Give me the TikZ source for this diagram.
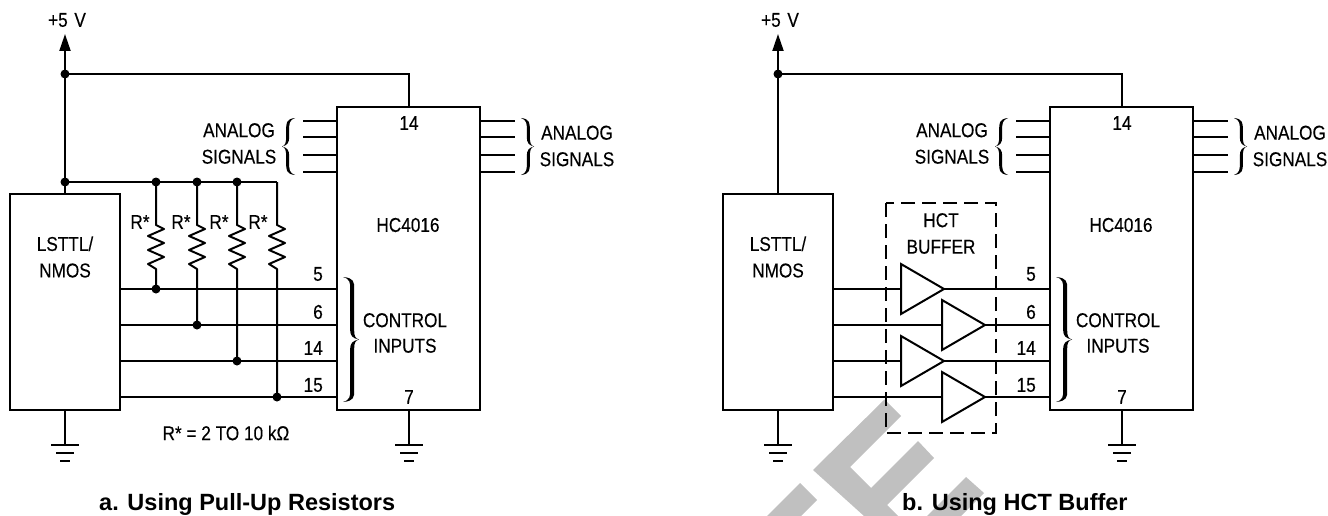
\documentclass[tikz,border=0pt]{standalone}
\usepackage{fontspec}
\setmainfont{Liberation Sans}[FakeStretch=0.86,FakeBold=0.25]
\newfontfamily\titlefont{Liberation Sans}[BoldFont={Liberation Sans Bold}]
\usetikzlibrary{arrows.meta}
\definecolor{wmgrey}{RGB}{192,192,192}
\tikzset{
  wire/.style={line width=2pt,line cap=butt,line join=miter},
  lbl/.style={inner sep=0pt,font=\fontsize{20}{22}\selectfont,align=center},
  pin/.style={inner sep=0pt,anchor=east,font=\fontsize{20}{22}\selectfont},
  dot/.style={circle,fill=black,inner sep=0pt,minimum size=9pt},
  chip/.style={draw,line width=2pt,fill=white,inner sep=0pt},
  buf/.style={wire,fill=white},
  ttl/.style={inner sep=0pt,anchor=base west,font=\titlefont\bfseries\fontsize{23.5}{26}\selectfont},
  brace/.style={fill=black,draw=none}
}
% brace: tip at x0+w; arms end at x0; w and t carry the sign of the direction
\newcommand{\brc}[5]{% x0, y1, y2, w, t
  \pgfmathsetmacro{\ym}{(#2+#3)/2}
  \pgfmathsetmacro{\sa}{#1+0.45*(#4)}
  \pgfmathsetmacro{\sb}{\sa+(#5)}
  \fill[brace] (#1,#2) .. controls (\sb,#2+1) and (\sb,#2+5) .. (\sb,#2+12)
    -- (\sb,\ym-9) .. controls (\sb,\ym-4) and ({#1+0.75*(#4)},\ym-1) .. ({#1+(#4)},\ym)
    .. controls ({#1+0.75*(#4)},\ym+1) and (\sb,\ym+4) .. (\sb,\ym+9)
    -- (\sb,#3-12) .. controls (\sb,#3-5) and (\sb,#3-1) .. (#1,#3)
    .. controls (\sa,#3-2) and (\sa,#3-6) .. (\sa,#3-12)
    -- (\sa,\ym+9) .. controls (\sa,\ym+4) and ({#1+0.6*(#4)},\ym+1) .. ({#1+(#4)},\ym)
    .. controls ({#1+0.6*(#4)},\ym-1) and (\sa,\ym-4) .. (\sa,\ym-9)
    -- (\sa,#2+12) .. controls (\sa,#2+6) and (\sa,#2+2) .. (#1,#2) -- cycle;
}
\newcommand{\gnd}[2]{%
  \draw[wire] (#1,#2) -- (#1,445);
  \draw[wire] (#1-14,445) -- (#1+14,445);
  \draw[wire] (#1-9,453) -- (#1+9,453);
  \draw[wire] (#1-5,460.5) -- (#1+5,460.5);
}
\newcommand{\panel}[1]{%
  \begin{scope}[xshift=#1pt]
  \node[chip,minimum width=143pt,minimum height=303pt] (ic) at (408.5,258.5) {};
  \node[chip,minimum width=110pt,minimum height=216pt] (ls) at (65,302) {};
  \coordinate (top) at (65,34);
  \coordinate (tee) at (65,74);
  \coordinate (corner) at (409,74);
  \draw[wire,-{Triangle[length=17pt,width=11pt]}] (65,194) -- (top);
  \draw[wire] (tee) -- (corner) -- (409,107);
  \node[dot] at (tee) {};
  \node[lbl] at (67,20) {+5\,\,V};
  \foreach \y in {121,137.5,155,172}{
    \draw[wire] (303,\y) -- (337,\y);
    \draw[wire] (480,\y) -- (515,\y);
  }
  \node[lbl] at (239,143.5) {ANALOG\\[4.5pt]SIGNALS};
  \node[lbl] at (577,146) {ANALOG\\[4.5pt]SIGNALS};
  \node[lbl] at (408,225) {HC4016};
  \node[lbl] at (409,123) {14};
  \node[lbl] at (409,397) {7};
  \node[lbl] at (405,333) {CONTROL\\[3.5pt]INPUTS};
  \node[lbl] at (65,257) {LSTTL/\\[4.5pt]NMOS};
  \node[pin] at (323,274) {5};
  \node[pin] at (323,312) {6};
  \node[pin] at (323,348) {14};
  \node[pin] at (323,385) {15};
  \brc{295}{118}{175}{-13}{-3}
  \brc{521}{118}{175}{13}{3}
  \brc{343}{277}{402}{16}{4}
  \gnd{65}{410}
  \gnd{409}{410}
  \end{scope}
}
\begin{document}
\begin{tikzpicture}[x=1pt,y=-1pt]
\useasboundingbox (0,0) rectangle (1328,516);
% watermark
\fill[wmgrey] (884.5,399.5) -- (901,416) -- (850,467) -- (871,488) -- (918,441) -- (934,458) -- (887,505) -- (898,516) -- (864,516) -- (813,470) -- cycle;
\fill[wmgrey] (800,483) -- (817,500) -- (801,516) -- (767,516) -- cycle;
\fill[wmgrey] (966,477) -- (984,493) -- (961,516) -- (927,516) -- cycle;
\panel{0}
\panel{713}
% panel a: pull-ups
\foreach \x/\y/\n in {156/289/a,197/325/b,237/361/c,277/397/d}{
  \draw[wire,line join=round] (\x,182) -- (\x,225) -- (\x+8,229) -- (\x-8,236) -- (\x+8,243) -- (\x-8,250) -- (\x+8,257) -- (\x-8,264) -- (\x,269) -- (\x,\y);
  \draw[wire] (120,\y) -- (337,\y);
  \node[dot] (j\n) at (\x,\y) {};
}
\draw[wire] (65,182) -- (277,182);
\foreach \x in {65,156,197,237}{\node[dot] at (\x,182) {};}
\foreach \x/\s in {140/a,181/b,219/c,258/d}{\node[lbl] (r\s) at (\x,222) {R*};}
\node[lbl] at (226,433) {R* = 2 TO 10 kΩ};
\node[ttl] at (99,510.5) {a. Using Pull-Up Resistors};
% panel b: buffers
\draw[wire,dash pattern=on 14pt off 7pt] (886,203) rectangle (996,433);
\foreach \y/\bx/\n in {289/901/e,325/942/f,361/901/g,397/942/h}{
  \draw[wire] (833,\y) -- (1050,\y);
  \draw[buf] (\bx,\y-25) -- (\bx+43,\y) -- (\bx,\y+25) -- cycle;
}
\node[lbl] at (941,233.5) {HCT\\[4.5pt]BUFFER};
\node[ttl] at (902,510.5) {b. Using HCT Buffer};
\end{tikzpicture}
\end{document}
